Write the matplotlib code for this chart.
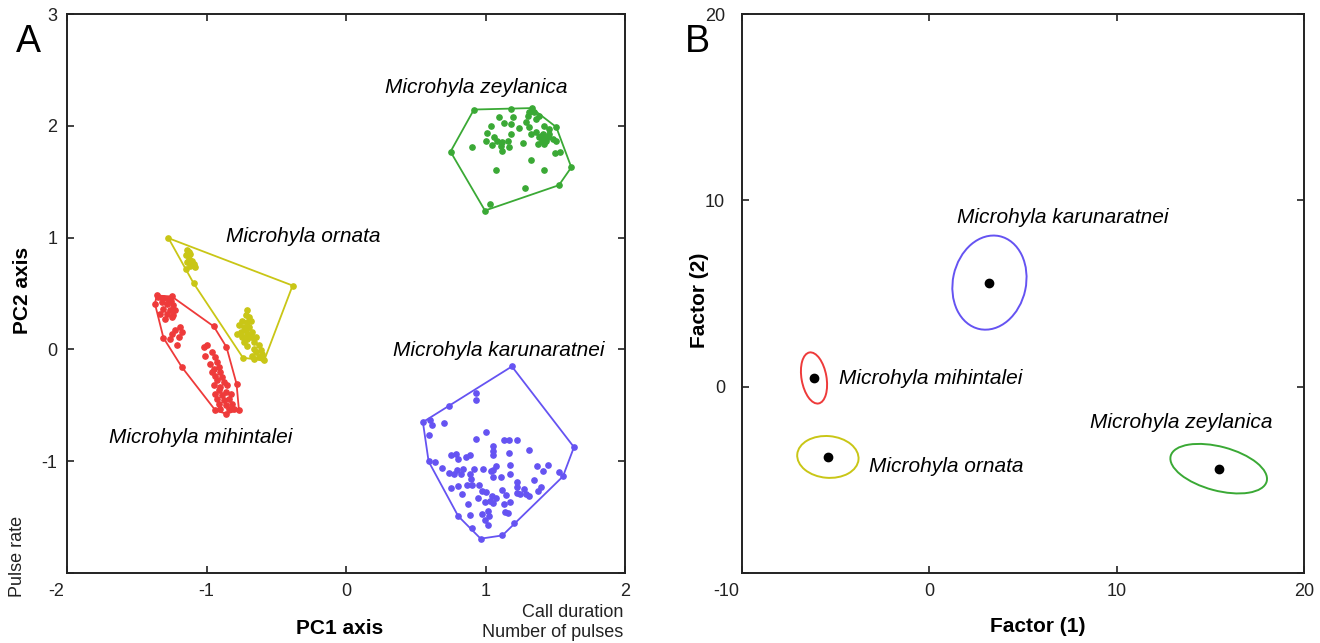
import matplotlib
matplotlib.use("Agg")
import matplotlib.pyplot as plt
from matplotlib.patches import Ellipse
from matplotlib.transforms import ScaledTranslation

plt.rcParams['font.family'] = ['Liberation Sans', 'DejaVu Sans']
plt.rcParams['axes.unicode_minus'] = False

GREEN = "#3aa935"
YELLOW = "#c9c616"
RED = "#ee3a3a"
BLUE = "#6553f2"

# ---- Panel A: PCA scores (PC1, PC2) ----
zey_x = [0.917, 1.180, 1.330, 1.507, 1.615, 1.526, 0.996, 0.749,
         1.097, 1.194, 1.037, 1.134, 1.182, 1.242, 1.302, 1.290, 1.314, 1.362, 1.386, 1.422, 1.458,
         1.013, 1.061, 1.001, 1.085, 1.121, 1.158, 1.049, 1.109, 1.170, 1.121, 1.182, 0.905, 1.266,
         1.326, 1.362, 1.386, 1.410, 1.434, 1.374, 1.422, 1.458, 1.483, 1.507, 1.495, 1.531,
         1.326, 1.422, 1.073, 1.283, 1.032, 1.398, 1.422, 1.405, 1.446, 1.314, 1.350]
zey_y = [2.147, 2.150, 2.160, 1.990, 1.630, 1.470, 1.243, 1.770,
         2.078, 2.078, 2.004, 2.028, 2.018, 1.983, 2.093, 2.033, 1.988, 2.063, 2.093, 2.004, 1.974,
         1.935, 1.899, 1.869, 1.869, 1.854, 1.869, 1.831, 1.825, 1.810, 1.774, 1.929, 1.816, 1.845,
         1.929, 1.944, 1.899, 1.929, 1.869, 1.840, 1.840, 1.929, 1.884, 1.869, 1.756, 1.765,
         1.699, 1.610, 1.610, 1.446, 1.303, 1.914, 1.884, 1.863, 1.899, 2.123, 2.123]

orn_x = [-1.273, -0.383, -0.587, -0.739, -1.093,
         -1.141, -1.129, -1.146, -1.117, -1.129, -1.105, -1.141, -1.093, -1.121, -1.081, -1.146,
         -0.708, -0.720, -0.696, -0.744, -0.708, -0.684, -0.768, -0.732, -0.696, -0.720,
         -0.756, -0.780, -0.708, -0.672, -0.744, -0.708, -0.684, -0.648, -0.732, -0.660,
         -0.623, -0.708, -0.660, -0.612, -0.648, -0.599, -0.672, -0.623, -0.599, -0.660]
orn_y = [0.996, 0.572, -0.098, -0.074, 0.593,
         0.892, 0.871, 0.841, 0.856, 0.811, 0.796, 0.781, 0.766, 0.751, 0.736, 0.722,
         0.349, 0.304, 0.289, 0.259, 0.244, 0.259, 0.215, 0.200, 0.200, 0.170,
         0.155, 0.140, 0.140, 0.155, 0.110, 0.095, 0.110, 0.110, 0.065, 0.065,
         0.036, 0.027, 0.006, -0.009, -0.024, -0.039, -0.054, -0.069, -0.074, -0.083]

mih_x = [-1.357, -1.249, -0.948, -0.857, -0.785, -0.768, -0.857, -0.936, -1.177, -1.309, -1.370,
         -1.345, -1.309, -1.273, -1.256, -1.321, -1.285, -1.242, -1.309, -1.261, -1.225, -1.334,
         -1.285, -1.237, -1.297, -1.249, -1.189, -1.225, -1.177, -1.249, -1.201, -1.261, -1.213,
         -1.020, -0.996, -1.008, -0.958, -0.936, -0.973, -0.924, -0.948, -0.912, -0.958, -0.900,
         -0.936, -0.888, -0.924, -0.876, -0.948, -0.900, -0.852, -0.912, -0.864, -0.936, -0.888,
         -0.828, -0.924, -0.876, -0.840, -0.912, -0.864, -0.816, -0.900, -0.840, -0.804]
mih_y = [0.483, 0.474, 0.206, 0.021, -0.307, -0.540, -0.575, -0.546, -0.158, 0.104, 0.409,
         0.468, 0.462, 0.453, 0.438, 0.423, 0.409, 0.394, 0.364, 0.349, 0.355, 0.319,
         0.313, 0.304, 0.275, 0.289, 0.199, 0.170, 0.155, 0.140, 0.110, 0.096, 0.036,
         0.021, 0.036, -0.054, -0.024, -0.069, -0.128, -0.114, -0.173, -0.158, -0.203, -0.203,
         -0.233, -0.248, -0.277, -0.292, -0.322, -0.337, -0.322, -0.367, -0.382, -0.396, -0.411,
         -0.396, -0.441, -0.456, -0.441, -0.486, -0.501, -0.486, -0.530, -0.530, -0.530]

kar_x = [1.189, 1.634, 1.555, 1.206, 1.121, 0.965, 0.804, 0.592, 0.551, 0.741,
         0.929, 0.929, 0.604, 0.616, 0.700, 0.592, 1.001, 0.929, 1.129, 1.170,
         1.223, 1.057, 1.057, 1.057, 1.170, 1.309, 0.756, 0.785, 0.804, 0.857,
         0.886, 0.635, 0.688, 0.736, 0.773, 0.792, 0.821, 0.840, 0.888, 0.917,
         0.982, 1.037, 1.054, 1.078, 1.177, 1.369, 1.451, 1.410, 1.526, 0.893,
         0.905, 0.869, 0.953, 1.057, 1.110, 1.177, 1.223, 1.345, 0.756, 0.804,
         0.828, 0.972, 1.006, 1.045, 1.078, 1.121, 1.146, 1.177, 1.223, 1.223,
         1.249, 1.278, 1.290, 1.314, 1.374, 1.398, 0.948, 0.996, 1.032, 1.057,
         1.129, 0.876, 0.886, 0.972, 1.018, 1.025, 0.996, 1.020, 1.138, 1.162, 0.900]
kar_y = [-0.152, -0.874, -1.136, -1.550, -1.664, -1.693, -1.491, -1.002, -0.650, -0.507,
         -0.391, -0.450, -0.629, -0.680, -0.659, -0.769, -0.740, -0.805, -0.814, -0.814,
         -0.814, -0.865, -0.912, -0.942, -0.927, -0.903, -0.948, -0.939, -0.984, -0.963,
         -0.948, -1.008, -1.062, -1.103, -1.112, -1.076, -1.112, -1.067, -1.112, -1.073,
         -1.073, -1.091, -1.076, -1.047, -1.031, -1.047, -1.031, -1.091, -1.100, -1.157,
         -1.216, -1.216, -1.216, -1.142, -1.142, -1.112, -1.187, -1.166, -1.241, -1.225,
         -1.297, -1.267, -1.276, -1.315, -1.330, -1.255, -1.306, -1.366, -1.232, -1.282,
         -1.297, -1.252, -1.297, -1.315, -1.270, -1.232, -1.330, -1.366, -1.357, -1.375,
         -1.386, -1.380, -1.485, -1.470, -1.446, -1.491, -1.530, -1.568, -1.455, -1.464, -1.595]

labels_a = ["Microhyla zeylanica", "Microhyla ornata",
            "Microhyla karunaratnei", "Microhyla mihintalei"]
label_a_x = [0.28, -0.86, 0.34, -1.70]
label_a_y = [2.34, 1.01, -0.01, -0.79]

# ---- Panel B: DFA centroids with confidence ellipses ----
species_b = ["Microhyla karunaratnei", "Microhyla mihintalei",
             "Microhyla ornata", "Microhyla zeylanica"]
colors_b = [BLUE, RED, YELLOW, GREEN]
cent_x = [3.21, -6.15, -5.41, 15.44]
cent_y = [5.59, 0.47, -3.77, -4.40]
ell_w = [5.1, 2.78, 3.28, 5.3]
ell_h = [3.9, 1.33, 2.24, 2.36]
ell_ang = [78, 100, -5, -15]
label_b_x = [1.5, -4.8, -3.2, 8.6]
label_b_y = [9.1, 0.45, -4.3, -1.9]


def convex_hull(xs, ys):
    pts = sorted(set(zip(xs, ys)))

    def cross(o, a, b):
        return (a[0] - o[0]) * (b[1] - o[1]) - (a[1] - o[1]) * (b[0] - o[0])

    lower, upper = [], []
    for p in pts:
        while len(lower) >= 2 and cross(lower[-2], lower[-1], p) <= 0:
            lower.pop()
        lower.append(p)
    for p in reversed(pts):
        while len(upper) >= 2 and cross(upper[-2], upper[-1], p) <= 0:
            upper.pop()
        upper.append(p)
    hull = lower[:-1] + upper[:-1]
    hull.append(hull[0])
    return [p[0] for p in hull], [p[1] for p in hull]


def style_axes(ax):
    ax.tick_params(direction="in", top=True, right=True, length=5, width=1.2,
                   labelsize=13, pad=7, colors="#222222")
    for s in ax.spines.values():
        s.set_linewidth(1.4)
        s.set_color("#222222")


fig = plt.figure(figsize=(13.2, 6.43), dpi=100)
axA = fig.add_axes([0.0508, 0.1089, 0.4227, 0.869])
axB = fig.add_axes([0.562, 0.1089, 0.426, 0.869])

# Panel A
groups = [(zey_x, zey_y, GREEN), (orn_x, orn_y, YELLOW),
          (mih_x, mih_y, RED), (kar_x, kar_y, BLUE)]
for gx, gy, c in groups:
    hx, hy = convex_hull(gx, gy)
    axA.plot(hx, hy, "-", color=c, lw=1.3)
    axA.plot(gx, gy, "o", ms=3.8, color=c, mec=c, lw=0)

for t, x, y in zip(labels_a, label_a_x, label_a_y):
    axA.text(x, y, t, fontsize=15, style="italic", ha="left", va="center")

axA.set_xlim(-2, 2)
axA.set_ylim(-2, 3)
axA.set_xticks([-2, -1, 0, 1, 2])
axA.set_yticks([-2, -1, 0, 1, 2, 3])
axA.set_yticklabels(["", "-1", "0", "1", "2", "3"])
style_axes(axA)

# Panel B
for i in range(len(species_b)):
    e = Ellipse((cent_x[i], cent_y[i]), ell_w[i], ell_h[i], angle=ell_ang[i],
                fill=False, edgecolor=colors_b[i], lw=1.4)
    axB.add_patch(e)
axB.plot(cent_x, cent_y, "o", ms=6, color="black", lw=0)
for t, x, y in zip(species_b, label_b_x, label_b_y):
    axB.text(x, y, t, fontsize=15, style="italic", ha="left", va="center")

axB.set_xlim(-10, 20)
axB.set_ylim(-10, 20)
axB.set_xticks([-10, 0, 10, 20])
axB.set_yticks([-10, 0, 10, 20])
axB.set_yticklabels(["", "0", "10", "20"])
style_axes(axB)
axB.tick_params(axis="y", pad=12)

# corner tick labels sit left of the corner
for ax in (axA, axB):
    lab = ax.xaxis.get_major_ticks()[0].label1
    lab.set_horizontalalignment("right")
    lab.set_transform(lab.get_transform() + ScaledTranslation(-0.03, 0, fig.dpi_scale_trans))

# axis titles and annotations
fig.text(0.2576, 0.0233, "PC1 axis", fontsize=15, fontweight="bold", ha="center", va="center")
fig.text(0.0167, 0.549, "PC2 axis", fontsize=15, fontweight="bold", ha="center", va="center",
         rotation=90)
fig.text(0.0136, 0.135, "Pulse rate", fontsize=13, ha="center", va="center", rotation=90,
         color="#222222")
fig.text(0.472, 0.048, "Call duration", fontsize=13, ha="right", va="center", color="#222222")
fig.text(0.472, 0.0156, "Number of pulses", fontsize=13, ha="right", va="center", color="#222222")
fig.text(0.786, 0.025, "Factor (1)", fontsize=15, fontweight="bold", ha="center", va="center")
fig.text(0.530, 0.533, "Factor (2)", fontsize=15, fontweight="bold", ha="center", va="center",
         rotation=90)
fig.text(0.0212, 0.935, "A", fontsize=27, ha="center", va="center")
fig.text(0.528, 0.935, "B", fontsize=27, ha="center", va="center")

fig.savefig("out.png", dpi=100)
